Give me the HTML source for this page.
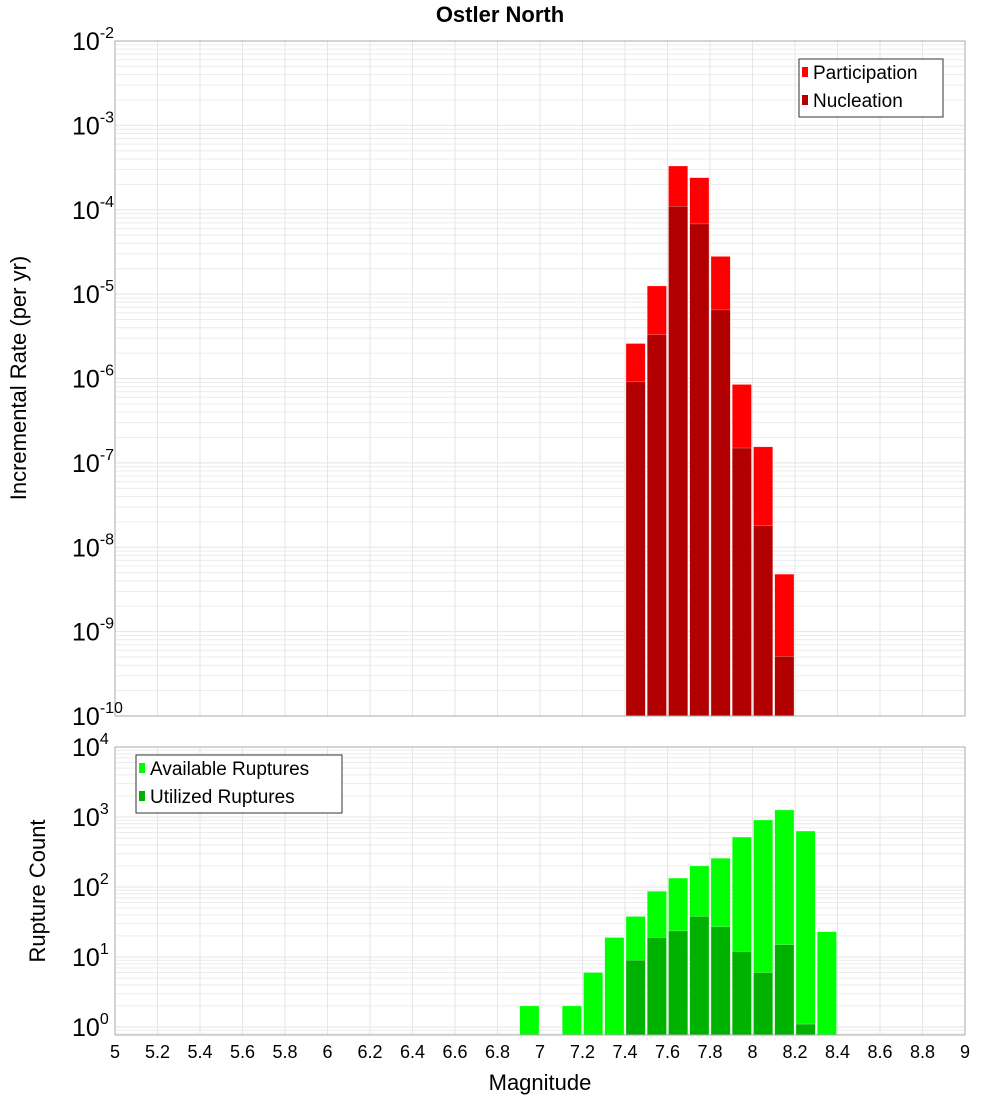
<!DOCTYPE html>
<html><head><meta charset="utf-8"><style>
body{margin:0;background:#fff;}
svg{display:block;font-family:"Liberation Sans","DejaVu Sans",sans-serif;}
</style></head><body>
<svg id="c" width="1000" height="1100" viewBox="0 0 1000 1100"></svg>
<script>
const binCenters=[7.45,7.55,7.65,7.75,7.85,7.95,8.05,8.15];
const participation=[2.6e-6,1.25e-5,3.3e-4,2.4e-4,2.8e-5,8.5e-7,1.55e-7,4.8e-9];
const nucleation=[9.2e-7,3.3e-6,1.1e-4,6.8e-5,6.5e-6,1.5e-7,1.8e-8,5.1e-10];
const countCenters=[6.95,7.15,7.25,7.35,7.45,7.55,7.65,7.75,7.85,7.95,8.05,8.15,8.25,8.35];
const available=[2,2,6,19,38,87,134,200,258,517,905,1260,630,23];
const utilized=[0,0,0,0,9,19,23.6,38,27,12,6,15,1.1,0];
const xTicks=[5,5.2,5.4,5.6,5.8,6,6.2,6.4,6.6,6.8,7,7.2,7.4,7.6,7.8,8,8.2,8.4,8.6,8.8,9];
const topExps=[-2,-3,-4,-5,-6,-7,-8,-9,-10];
const botExps=[4,3,2,1,0];

const NS='http://www.w3.org/2000/svg';
const svg=document.getElementById('c');
function mk(tag,attrs,parent){const e=document.createElementNS(NS,tag);for(const k in attrs)e.setAttribute(k,attrs[k]);(parent||svg).appendChild(e);return e;}
const X0=115,X1=965;
const xs=m=>X0+(m-5)/4*(X1-X0);
const T0=41,T1=716;
const yTop=v=>T0+(-2-Math.log10(v))/8*(T1-T0);
const B0=747,B1=1035,BDEC=70,B10=1027;
const yBot=v=>Math.min(B1,B10-Math.log10(v)*BDEC);

function grid(y0,y1,decFn,expLo,expHi){
  const g=mk('g',{});
  
  
  for(let e=expLo;e<=expHi;e++){for(let k=1;k<10;k++){const y=decFn(k*Math.pow(10,e));if(y<y0-0.5||y>y1+0.5)continue;mk('line',{x1:X0,x2:X1,y1:y,y2:y,stroke:k==1?'#e4e4e4':'#ececec','stroke-width':1},g);}}
  xTicks.forEach(t=>{const x=xs(t);mk('line',{x1:x,x2:x,y1:y0,y2:y1,stroke:'#e6e6e6','stroke-width':1},g);});
}
grid(T0,T1,yTop,-10,-3);
grid(B0,B1,yBot,-1,3);

// title
let t=mk('text',{x:500,y:22,'text-anchor':'middle','font-size':22,'font-weight':'bold'});t.textContent='Ostler North';


function bars(centers,vals,yf,base,color,name){
  centers.forEach((c,i)=>{const v=vals[i];if(!(v>0))return;const y=yf(v);
    const r=mk('rect',{x:xs(c-0.05)+1,y:y,width:xs(c+0.05)-xs(c-0.05)-2,height:base-y,fill:color,stroke:'#fff','stroke-opacity':0.5,'stroke-width':0.5});
    
    });
}
bars(binCenters,participation,yTop,T1,'#ff0000','participation-bar');
bars(binCenters,nucleation,yTop,T1,'#b20000','nucleation-bar');
bars(countCenters,available,yBot,B1,'#00ff00','available-bar');
bars(countCenters,utilized,yBot,B1,'#00b200','utilized-bar');

// frames
let f=mk('rect',{x:X0,y:T0,width:X1-X0,height:T1-T0,fill:'none',stroke:'#aaa'});
f=mk('rect',{x:X0,y:B0,width:X1-X0,height:B1-B0,fill:'none',stroke:'#aaa'});

// y tick labels
function ylab(y,exp,name){const tx=mk('text',{x:72,y:y+9,'font-size':25});tx.textContent='10';
  const s=mk('tspan',{dy:-12,'font-size':16});s.textContent=String(exp);tx.appendChild(s);
  }
topExps.forEach(e=>ylab(yTop(Math.pow(10,e)),e,'top-y-tick-label'));
botExps.forEach(e=>ylab(B10-e*BDEC,e,'bottom-y-tick-label'));

// x tick labels
xTicks.forEach(v=>{const tx=mk('text',{x:xs(v),y:1058,'text-anchor':'middle','font-size':18});tx.textContent=String(v);
  });

t=mk('text',{x:540,y:1090,'text-anchor':'middle','font-size':22});t.textContent='Magnitude';
t=mk('text',{x:0,y:0,'text-anchor':'middle','font-size':22,transform:'translate(26,378) rotate(-90)'});t.textContent='Incremental Rate (per yr)';
t=mk('text',{x:0,y:0,'text-anchor':'middle','font-size':22,transform:'translate(45,891) rotate(-90)'});t.textContent='Rupture Count';

function legend(x,y,w,items,name){const g=mk('g',{});
  mk('rect',{x:x,y:y,width:w,height:58,fill:'#fff',stroke:'#333'},g);
  items.forEach((it,i)=>{mk('rect',{x:x+3,y:y+8+i*28,width:6,height:10,fill:it[1]},g);
    const tx=mk('text',{x:x+14,y:y+20+i*28,'font-size':19},g);tx.textContent=it[0];});}
legend(799,59,144,[['Participation','#ff0000'],['Nucleation','#b20000']],'top-legend');
legend(136,755,206,[['Available Ruptures','#00ff00'],['Utilized Ruptures','#00b200']],'bottom-legend');
</script>
</body></html>
